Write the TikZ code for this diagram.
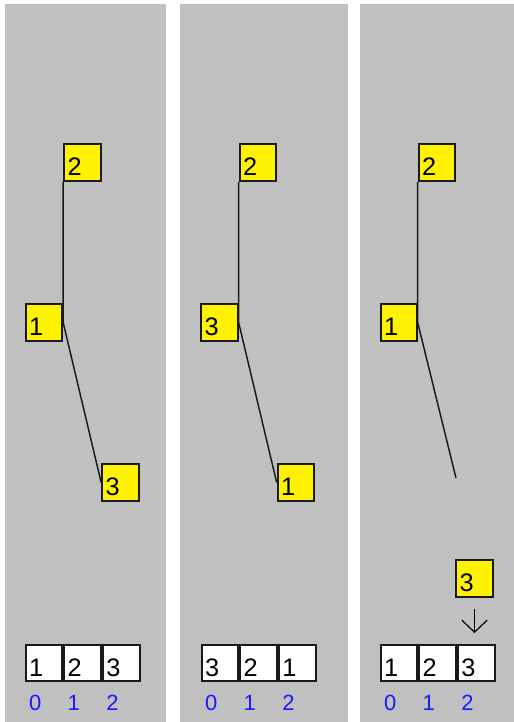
\documentclass[tikz,border=0pt]{standalone}
\usepackage{fontspec}
\setmainfont{Liberation Sans}
\usetikzlibrary{positioning,arrows.meta}
\definecolor{panelgray}{RGB}{192,192,192}
\definecolor{idxblue}{RGB}{25,25,255}

\begin{document}
\begin{tikzpicture}[x=0.75pt, y=-0.75pt,
		panel/.style={fill=panelgray},
		box/.style={draw=black!90, line width=1.4pt, inner xsep=2.6pt, inner ysep=0pt,
								text width=22.4pt, align=left, text height=23.8pt, text depth=3.8pt,
								font=\fontsize{19}{19}\selectfont},
		elem/.style={box, fill=yellow},
		cell/.style={box, fill=white},
		idx/.style={inner sep=0pt, text width=22.4pt, align=left, anchor=base,
								text=idxblue, font=\fontsize{16.5}{16.5}\selectfont},
		link/.style={line width=1.1pt, black!90},
		push/.style={-{Straight Barb[length=9pt,width=19pt]}, line width=0.9pt,
								shorten <=8pt, shorten >=8pt},
	]
		\fill[white] (0,0) rectangle (514,722);
		\useasboundingbox (0,0) rectangle (514,722);

		% 배경 패널
		\fill[panel] (5,4) rectangle (166,722);
		\fill[panel] (180,4) rectangle (348,722);
		\fill[panel] (360,4) rectangle (514,722);

		% 패널 1: 트리
		\node[elem] (atwo) at (82.5,162.5) {2};
		\node[elem] (aone) at (44,322.5) {1};
		\node[elem] (athree) at (120.5,482.5) {3};
		\draw[link] (atwo.south west) -- (atwo.south west |- aone.east) -- (athree.west);

		% 패널 1: 배열
		\node[cell] (acell0) at (44,663) {1};
		\node[cell, right=0pt of acell0] (acell1) {2};
		\node[cell, right=0pt of acell1] (acell2) {3};
		\node[idx] (aidx0) at (acell0 |- 0,710) {0};
		\node[idx] (aidx1) at (acell1 |- 0,710) {1};
		\node[idx] (aidx2) at (acell2 |- 0,710) {2};

		% 패널 2: 트리
		\node[elem] (btwo) at (258,162.5) {2};
		\node[elem] (bthree) at (219.5,322.5) {3};
		\node[elem] (bone) at (296,482.5) {1};
		\draw[link] (btwo.south west) -- (btwo.south west |- bthree.east) -- (bone.west);

		% 패널 2: 배열
		\node[cell] (bcell0) at (220,663) {3};
		\node[cell, right=0pt of bcell0] (bcell1) {2};
		\node[cell, right=0pt of bcell1] (bcell2) {1};
		\node[idx] (bidx0) at (bcell0 |- 0,710) {0};
		\node[idx] (bidx1) at (bcell1 |- 0,710) {1};
		\node[idx] (bidx2) at (bcell2 |- 0,710) {2};

		% 패널 3: 트리 (3 빠짐)
		\node[elem] (ctwo) at (437,162.5) {2};
		\node[elem] (cone) at (399,322.5) {1};
		\coordinate (cend) at (456,478);
		\draw[link] (ctwo.south west) -- (ctwo.south west |- cone.east) -- (cend);

		% 패널 3: 배열
		\node[cell] (ccell0) at (399,663) {1};
		\node[cell, right=0pt of ccell0] (ccell1) {2};
		\node[cell, right=0pt of ccell1] (ccell2) {3};
		\node[idx] (cidx0) at (ccell0 |- 0,710) {0};
		\node[idx] (cidx1) at (ccell1 |- 0,710) {1};
		\node[idx] (cidx2) at (ccell2 |- 0,710) {2};

		% 꺼낸 원소
		\node[elem] (cthree) at (474.5,578.5) {3};
		\draw[push] (cthree.south) -- (cthree.south |- ccell2.north);
	\end{tikzpicture}
\end{document}
